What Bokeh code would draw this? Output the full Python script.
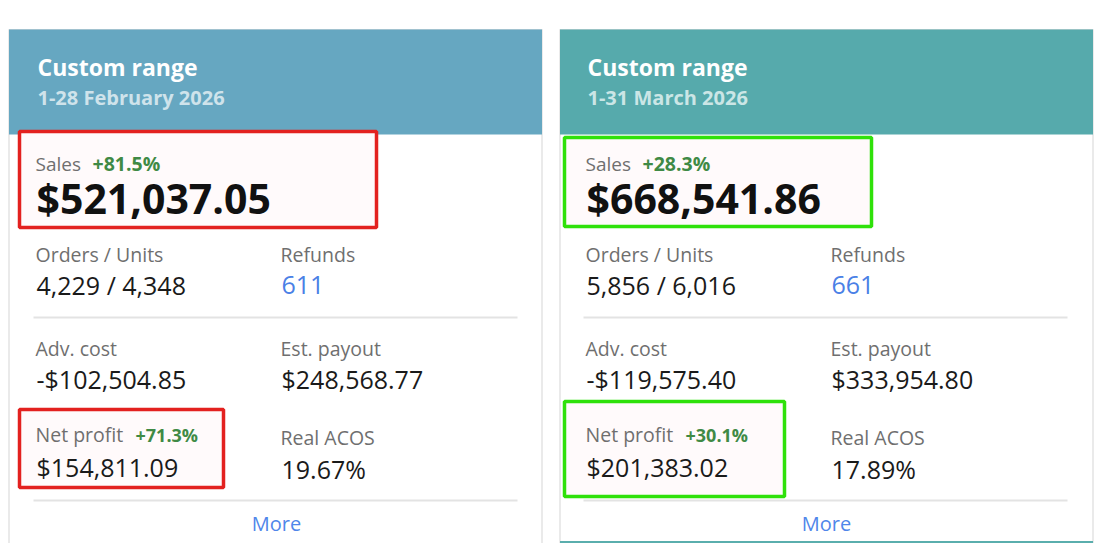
from bokeh.plotting import figure
from bokeh.models import ColumnDataSource, Range1d
from bokeh.core.properties import value
from bokeh.embed import file_html
from bokeh.resources import INLINE

# ---------------- data ----------------
card_titles = ["Custom range", "Custom range"]
periods = ["1-28 February 2026", "1-31 March 2026"]
sales = [521037.05, 668541.86]
sales_change = [81.5, 28.3]
orders = [4229, 5856]
units = [4348, 6016]
refunds = [611, 661]
adv_cost = [-102504.85, -119575.40]
est_payout = [248568.77, 333954.80]
net_profit = [154811.09, 201383.02]
net_profit_change = [71.3, 30.1]
real_acos = [19.67, 17.89]
metric_labels = ["Orders / Units", "Refunds", "Adv. cost", "Est. payout", "Net profit", "Real ACOS"]
sales_label = "Sales"
link_label = "More"


def money(v):
    return ("-" if v < 0 else "") + "${:,.2f}".format(abs(v))


def pct(v, sign=False):
    return ("+" if sign else "") + "{:.1f}%".format(v)

# ---------------- layout / style ----------------
W, H = 1096, 543
FONT = value("Open Sans")
card_left = [8.5, 559.5]
card_right = [541.5, 1092.5]
header_colors = ["#66a7c1", "#56aaac"]
period_colors = ["#cfe3eb", "#cbe6e6"]
box_colors = ["#e3211f", "#2fe10a"]
text_x = [36, 586]
col2_dx = 245
sales_delta_dx = [56, 56]
net_delta_dx = [99, 99]
sales_box = [(19, 376, 131, 227), (564, 871, 137, 226)]
net_box = [(19, 223, 409, 487), (564, 784, 401, 496)]

TOP, HEAD_B, BOT = 29, 134, 560

SZ_TITLE, SZ_DATE = 23, 20
SZ_SALES_LAB, SZ_SALES_DELTA, SZ_SALES_VAL = 19, 19.5, 41
SZ_LAB, SZ_VAL, SZ_NET_DELTA, SZ_MORE = 19.5, 25, 18, 20


def by(baseline, size):
    """Shift so that the rendered alphabetic baseline lands on `baseline`."""
    return baseline - 0.36 * size


p = figure(width=W, height=H, x_range=Range1d(0, W), y_range=Range1d(H, 0),
           output_backend="svg", toolbar_location=None, min_border=0)
p.axis.visible = False
p.grid.visible = False
p.outline_line_color = None
p.background_fill_color = "white"
p.border_fill_color = "white"

n = len(card_titles)
# card frames
p.quad(left=card_left, right=card_right, top=[TOP] * n, bottom=[BOT] * n,
       fill_color="white", line_color="#dcdcdc", line_width=1.2)
# teal bottom edge of the second card
p.segment(x0=[card_left[1]], x1=[card_right[1]], y0=[541.5], y1=[541.5],
          line_color="#5aaead", line_width=2)
# headers
p.quad(left=card_left, right=card_right, top=[TOP] * n, bottom=[HEAD_B] * n,
       fill_color=header_colors, line_color=None)

# header text
p.text(x=[t + 1 for t in text_x], y=[by(75, SZ_TITLE)] * n, text=card_titles, text_font=FONT,
       text_font_size=f"{SZ_TITLE}px", text_font_style="bold", text_color="white",
       text_baseline="alphabetic")
p.text(x=[t + 1 for t in text_x], y=[by(104, SZ_DATE)] * n, text=periods, text_font=FONT,
       text_font_size=f"{SZ_DATE}px", text_font_style="bold", text_color=period_colors,
       text_baseline="alphabetic")

# highlight boxes (fill)
for boxes in (sales_box, net_box):
    p.quad(left=[b[0] for b in boxes], right=[b[1] for b in boxes],
           top=[b[2] for b in boxes], bottom=[b[3] for b in boxes],
           fill_color="#fffafb", line_color=None)

# Sales block
p.text(x=[t - 1 for t in text_x], y=[by(170, SZ_SALES_LAB)] * n, text=[sales_label] * n,
       text_font=FONT, text_font_size=f"{SZ_SALES_LAB}px", text_color="#6f6f6f",
       text_baseline="alphabetic")
p.text(x=[t + d for t, d in zip(text_x, sales_delta_dx)], y=[by(170, SZ_SALES_DELTA)] * n,
       text=[pct(v, True) for v in sales_change], text_font=FONT,
       text_font_size=f"{SZ_SALES_DELTA}px", text_font_style="bold", text_color="#3f8a45",
       text_baseline="alphabetic")
p.text(x=text_x, y=[by(212, SZ_SALES_VAL)] * n, text=[money(v) for v in sales], text_font=FONT,
       text_font_size=f"{SZ_SALES_VAL}px", text_font_style="bold", text_color="#111111",
       text_baseline="alphabetic")

# metric grid
lab_x, lab_y, lab_t = [], [], []
val_x, val_y, val_t, val_c = [], [], [], []
label_base = [261, 261, 355, 355, 441, 444]
value_base = [293, 293, 387, 387, 475, 477]
for i in range(n):
    vals = [
        "{:,} / {:,}".format(orders[i], units[i]),
        "{}".format(refunds[i]),
        money(adv_cost[i]),
        money(est_payout[i]),
        money(net_profit[i]),
        "{:.2f}%".format(real_acos[i]),
    ]
    for k in range(6):
        x = text_x[i] + (col2_dx if k % 2 else 0)
        lab_x.append(x - 1); lab_y.append(by(label_base[k], SZ_LAB)); lab_t.append(metric_labels[k])
        val_x.append(x); val_y.append(by(value_base[k], SZ_VAL)); val_t.append(vals[k])
        val_c.append("#4a80e6" if k == 1 else "#1a1a1a")

p.text(x=lab_x, y=lab_y, text=lab_t, text_font=FONT, text_font_size=f"{SZ_LAB}px",
       text_color="#6f6f6f", text_baseline="alphabetic")
p.text(x="x", y="y", text="t", source=ColumnDataSource(dict(x=val_x, y=val_y, t=val_t, c=val_c)),
       text_color="c", text_font=FONT, text_font_size=f"{SZ_VAL}px", text_baseline="alphabetic")

# net profit delta
p.text(x=[t + d for t, d in zip(text_x, net_delta_dx)], y=[by(441, SZ_NET_DELTA)] * n,
       text=[pct(v, True) for v in net_profit_change], text_font=FONT,
       text_font_size=f"{SZ_NET_DELTA}px", text_font_style="bold", text_color="#3f8a45",
       text_baseline="alphabetic")

# dividers
for yy in (317, 500):
    p.segment(x0=[t - 3 for t in text_x], x1=[t + 481 for t in text_x], y0=[yy] * n, y1=[yy] * n,
              line_color="#e3e3e3", line_width=2)

# More link
p.text(x=[t + 240 for t in text_x], y=[by(530, SZ_MORE)] * n, text=[link_label] * n, text_font=FONT,
       text_font_size=f"{SZ_MORE}px", text_color="#4f86ea", text_align="center",
       text_baseline="alphabetic")

# highlight box outlines
for boxes in (sales_box, net_box):
    p.quad(left=[b[0] for b in boxes], right=[b[1] for b in boxes],
           top=[b[2] for b in boxes], bottom=[b[3] for b in boxes],
           fill_color=None, line_color=box_colors, line_width=3.5)

open("out.html", "w").write(file_html(p, INLINE))
